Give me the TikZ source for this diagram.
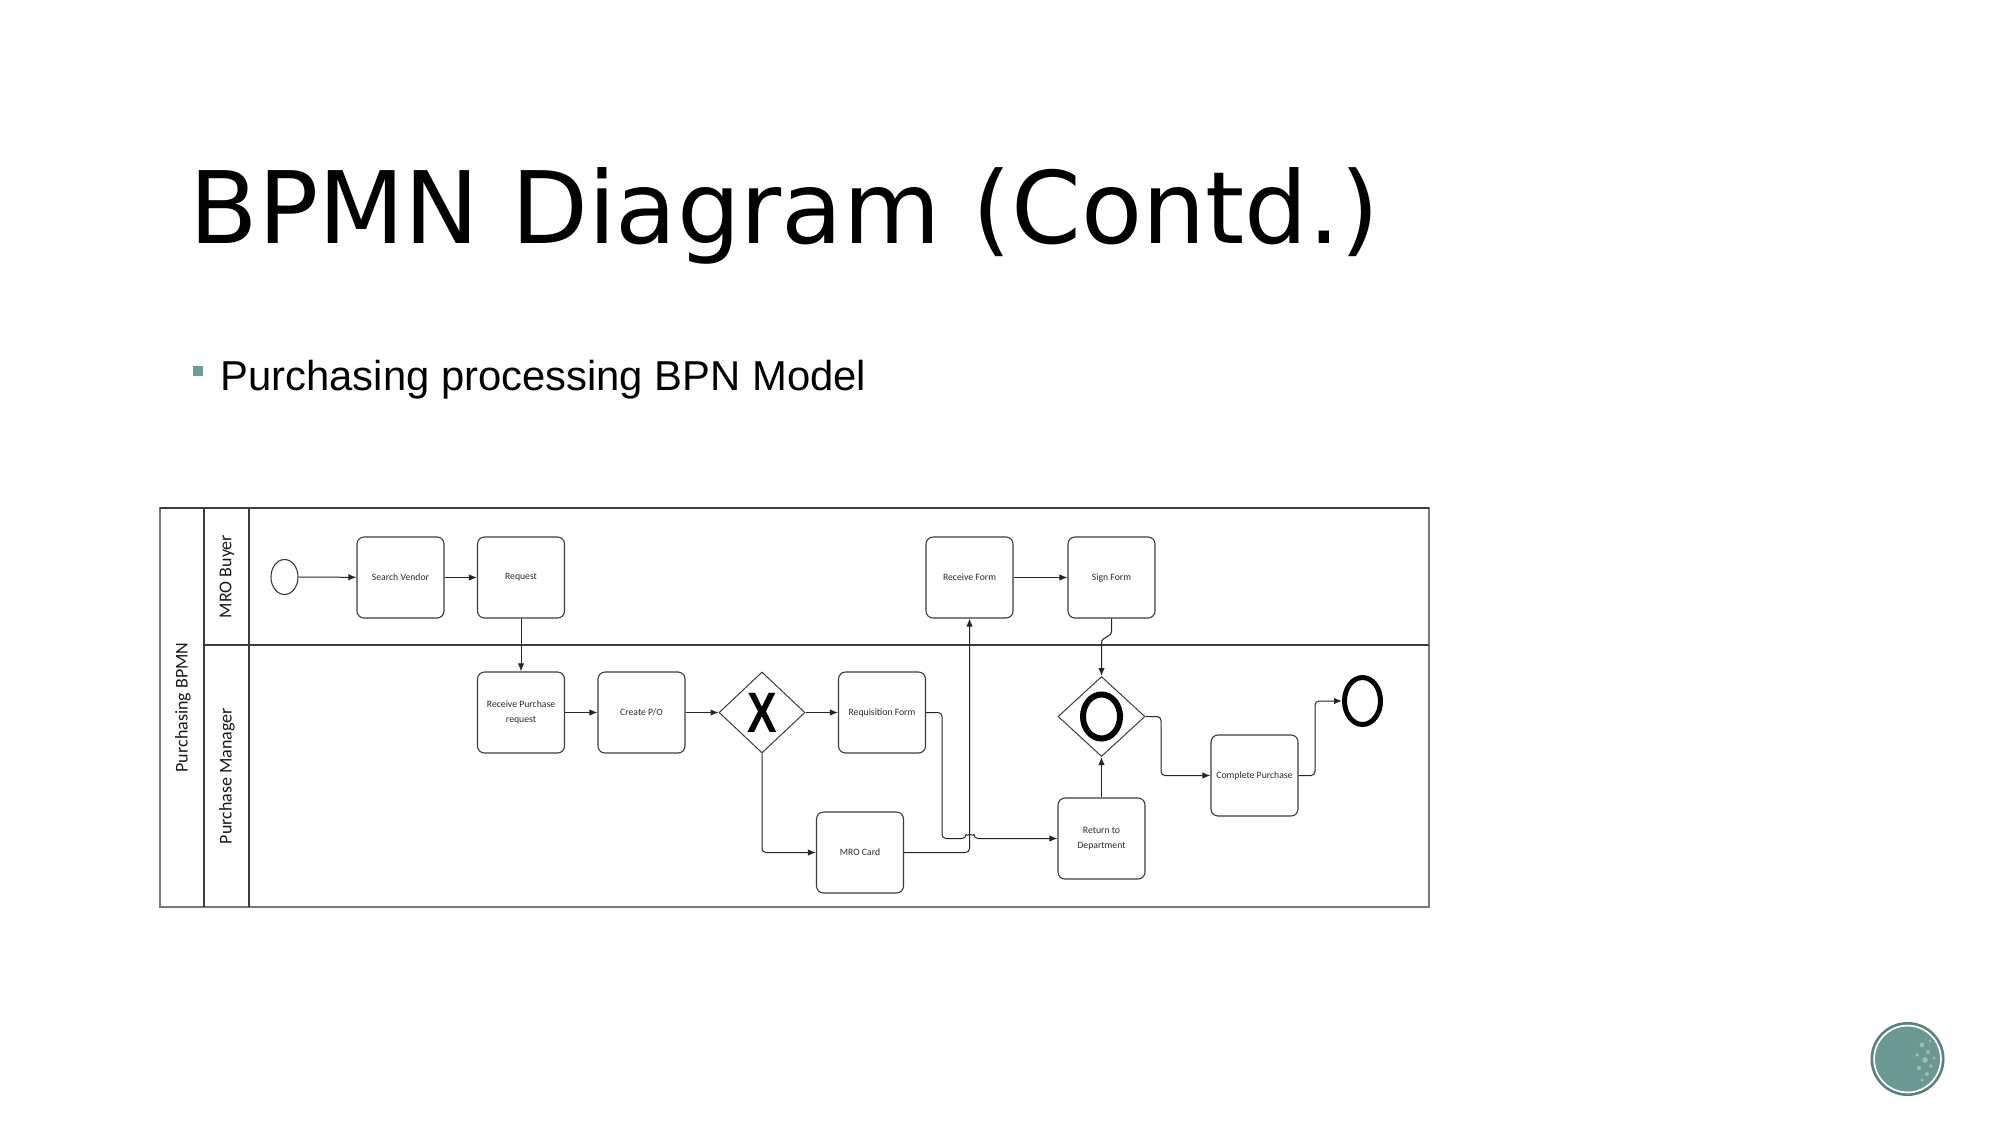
\documentclass[tikz,border=0pt]{standalone}
\usepackage{fontspec}
\usepackage{graphicx}
\setmainfont{Carlito}
\newfontfamily\titlefont{DejaVu Sans}
\newfontfamily\subfont{Liberation Sans}
\usetikzlibrary{arrows.meta,shapes.geometric}
\definecolor{taskgray}{HTML}{3C3C3C}
\definecolor{textgray}{HTML}{2A2A2A}
\definecolor{poolgray}{HTML}{7A7A7A}
\definecolor{bulletc}{HTML}{6C9C95}
\definecolor{embdark}{HTML}{58827E}
\definecolor{embin}{HTML}{6C9894}
\begin{document}
\begin{tikzpicture}[x=0.5pt,y=-0.5pt,
  task/.style={draw=taskgray, line width=0.55pt, rounded corners=3.5pt,
    minimum width=43.5pt, minimum height=40.5pt, inner sep=1pt, align=center,
    text=textgray, font=\fontsize{4.85pt}{7.4pt}\selectfont},
  gate/.style={diamond, draw=taskgray, line width=0.5pt, minimum width=43pt,
    minimum height=40.5pt, inner sep=0pt},
  flow/.style={draw=black!85, line width=0.5pt, rounded corners=2pt,
    -{Latex[length=4pt,width=3.2pt]}},
  lane/.style={rotate=90, font=\fontsize{9pt}{10pt}\selectfont, text=black!90, inner sep=0pt}
]
\useasboundingbox (0,0) rectangle (2001,1125);
\fill[white] (0,0) rectangle (2001,1125);

% title and subtitle
\node[anchor=base west, inner sep=0pt, font=\titlefont\fontsize{50pt}{60pt}\selectfont] (title) at (189,243) {BPMN Diagram (Contd.)};
\fill[bulletc] (193,366) rectangle (203,376);
\node[anchor=base west, inner sep=0pt, font=\subfont\fontsize{20.9pt}{24pt}\selectfont] (sub) at (220,390) {Purchasing processing BPN Model};

% pool and lanes
\draw[poolgray, line width=0.75pt] (160,508) rectangle (1429,907);
\draw[taskgray, line width=0.9pt] (160,508) -- (1429,508);
\draw[taskgray, line width=0.7pt] (204,508) -- (204,907);
\draw[taskgray, line width=0.7pt] (249,508) -- (249,907);
\draw[taskgray, line width=1.1pt] (204,645) -- (1429,645);
\node[lane] (pool) at (183,707.5) {Purchasing BPMN};
\node[lane] (lane1) at (227,576.5) {MRO Buyer};
\node[lane] (lane2) at (227,776) {Purchase Manager};

% events
\node[draw=taskgray, ellipse, line width=0.55pt, minimum width=13.5pt, minimum height=17.5pt, inner sep=0pt] (start) at (284.5,577) {};
\node[draw=black, ellipse, line width=2.5pt, minimum width=18pt, minimum height=23.5pt, inner sep=0pt] (endev) at (1362.5,701) {};

% tasks
\node[task] (sv) at (400.5,577.5) {Search Vendor};
\node[task] (rq) at (521,577.5) {Request};
\node[task] (rpr) at (521,712.5) {Receive Purchase\\request};
\node[task] (cpo) at (641.5,712.5) {Create P/O};
\node[task] (rf) at (882,712.5) {Requisition Form};
\node[task] (mro) at (860,852.5) {MRO Card};
\node[task] (rcv) at (969.5,577.5) {Receive Form};
\node[task] (sf) at (1111.5,577.5) {Sign Form};
\node[task] (rtd) at (1101.5,838.5) {Return to\\Department};
\node[task] (cp) at (1254.5,775.5) {Complete Purchase};

% gateways
\node[gate] (gx) at (762,712.5) {\subfont\bfseries\fontsize{28.5pt}{28.5pt}\selectfont\scalebox{0.78}[1]{X}};
\node[gate, minimum width=43.5pt, minimum height=40pt] (go) at (1101.5,716.5) {};
\draw[black, line width=3pt] (go.center) ellipse [x radius=9.25pt, y radius=11pt];

% flows
\draw[flow] (start) -- (sv);
\draw[flow] (sv) -- (rq);
\draw[flow] (rq) -- (rpr);
\draw[flow] (rpr) -- (cpo);
\draw[flow] (cpo) -- (gx);
\draw[flow] (gx) -- (rf);
\draw[flow] (gx.south) |- (mro.west);
\draw[flow] (rf.east) -- (942,712.5) -- (942,838.5) -- (966,838.5)
  arc[start angle=180, end angle=0, radius=2pt] -- (rtd.west);
\draw[flow] (mro.east) -- (969.5,852.5) -- (rcv.south);
\draw[flow] (rcv) -- (sf);
\draw[flow, rounded corners=0pt] (sf.south) -- (1111.5,631)
  .. controls (1111.5,638) and (1101.5,636) .. (1101.5,643) -- (go.north);
\draw[flow] (rtd.north) -- (go.south);
\draw[flow] (go.east) -- (1161,716.5) |- (cp.west);
\draw[flow] (cp.east) -- (1315,775.5) |- (endev.west);

% emblem
\fill[embdark] (1907.5,1059) circle[radius=18.5pt];
\fill[embin] (1907.5,1059) circle[radius=16pt];
\draw[white, line width=0.9pt] (1907.5,1059) circle[radius=16.7pt];
\foreach \a/\b/\r in {1922/1045/1.2, 1928/1052/1.0, 1925/1060/1.4, 1931/1066/0.9, 1919/1068/1.1, 1927/1074/1.0, 1934/1058/0.8, 1917/1055/0.9, 1930/1041/0.7, 1922/1080/0.8}
  \fill[white, opacity=0.35] (\a,\b) circle[radius=\r pt];
\end{tikzpicture}
\end{document}
